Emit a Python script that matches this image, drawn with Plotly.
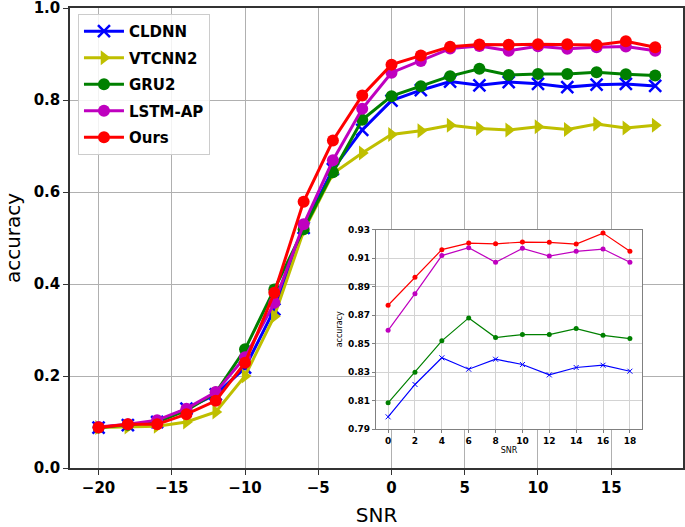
import plotly.graph_objects as go

# ---------------- data ----------------
snr = [-20, -18, -16, -14, -12, -10, -8, -6, -4, -2, 0, 2, 4, 6, 8, 10, 12, 14, 16, 18]

cldnn = [0.088, 0.093, 0.100, 0.129, 0.160, 0.218, 0.345, 0.522, 0.650, 0.735,
         0.7986, 0.8213, 0.840, 0.832, 0.839, 0.8353, 0.828, 0.8332, 0.8348, 0.8306]
vtcnn2 = [0.088, 0.089, 0.091, 0.100, 0.122, 0.200, 0.330, 0.515, 0.640, 0.685,
          0.725, 0.733, 0.745, 0.738, 0.735, 0.742, 0.736, 0.748, 0.739, 0.745]
gru2 = [0.088, 0.094, 0.100, 0.125, 0.164, 0.258, 0.388, 0.519, 0.643, 0.757,
        0.8084, 0.8299, 0.8519, 0.868, 0.8542, 0.8563, 0.8563, 0.8605, 0.8558, 0.8535]
lstm_ap = [0.089, 0.095, 0.104, 0.129, 0.165, 0.241, 0.359, 0.530, 0.669, 0.781,
           0.8593, 0.885, 0.9117, 0.9173, 0.907, 0.9168, 0.9114, 0.9147, 0.9163, 0.907]
ours = [0.088, 0.095, 0.095, 0.117, 0.146, 0.229, 0.381, 0.579, 0.712, 0.810,
        0.8769, 0.8965, 0.9159, 0.9205, 0.920, 0.9212, 0.921, 0.9198, 0.9275, 0.9147]

x_ticks = [-20, -15, -10, -5, 0, 5, 10, 15]
x_ticktext = ["\u221220", "\u221215", "\u221210", "\u22125", "0", "5", "10", "15"]
y_ticks = [0.0, 0.2, 0.4, 0.6, 0.8, 1.0]
y_ticktext = ["0.0", "0.2", "0.4", "0.6", "0.8", "1.0"]

inset_snr_min = 0
inset_x_ticks = [0, 2, 4, 6, 8, 10, 12, 14, 16, 18]
inset_y_ticks = [0.79, 0.81, 0.83, 0.85, 0.87, 0.89, 0.91, 0.93]
inset_y_ticktext = ["0.79", "0.81", "0.83", "0.85", "0.87", "0.89", "0.91", "0.93"]

names = ["CLDNN", "VTCNN2", "GRU2", "LSTM-AP", "Ours"]
series = [cldnn, vtcnn2, gru2, lstm_ap, ours]
colors = ["#0000ff", "#bfbf00", "#008000", "#bf00bf", "#ff0000"]
symbols = ["x-thin", "triangle-right", "circle", "circle", "circle"]

FONT = "DejaVu Sans"

fig = go.Figure()

for name, ys, c, s in zip(names, series, colors, symbols):
    if s == "x-thin":
        marker = dict(symbol=s, size=12, color=c, line=dict(color=c, width=2.5))
    else:
        marker = dict(symbol=s, size=13 if s == "triangle-right" else 12, color=c,
                      line=dict(width=0))
    fig.add_trace(go.Scatter(
        x=snr, y=ys, name=name, mode="lines+markers",
        line=dict(color=c, width=3), marker=marker,
        legendgroup=name, xaxis="x", yaxis="y"))

# inset traces (no VTCNN2)
for name, ys, c, s in zip(names, series, colors, symbols):
    if name == "VTCNN2":
        continue
    xi = [v for v in snr if v >= inset_snr_min]
    yi = [y for v, y in zip(snr, ys) if v >= inset_snr_min]
    if s == "x-thin":
        marker = dict(symbol=s, size=5, color=c, line=dict(color=c, width=1))
    else:
        marker = dict(symbol=s, size=5, color=c, line=dict(width=0))
    fig.add_trace(go.Scatter(
        x=xi, y=yi, name=name, mode="lines+markers", showlegend=False,
        line=dict(color=c, width=1.2), marker=marker,
        xaxis="x2", yaxis="y2"))

ix0, ix1 = 0.4992, 0.9331
iy0, iy1 = 0.0846, 0.5184

fig.update_layout(
    width=685, height=527,
    margin=dict(l=70, r=2, t=8, b=59, autoexpand=False),
    paper_bgcolor="white", plot_bgcolor="white",
    font=dict(family=FONT, color="black"),
    showlegend=True,
    legend=dict(
        x=0.013, y=0.987, xanchor="left", yanchor="top",
        bgcolor="rgba(255,255,255,0.85)", bordercolor="#cccccc", borderwidth=1,
        font=dict(family=FONT, size=15, weight="bold", color="black"),
        tracegroupgap=4, itemwidth=40),
    xaxis=dict(
        domain=[0, 1], range=[-21.95, 19.9], anchor="y", automargin=False,
        tickvals=x_ticks, ticktext=x_ticktext, ticklabeloverflow="allow",
        tickfont=dict(family=FONT, size=15, weight="bold"),
        showgrid=True, gridcolor="#b0b0b0", gridwidth=1, zeroline=False,
        showline=True, linecolor="#333333", linewidth=1.5, mirror=True,
        ticks="outside", ticklen=5, tickcolor="#333333",
        title=dict(text="SNR", font=dict(family=FONT, size=20), standoff=12)),
    yaxis=dict(
        domain=[0, 1], range=[0, 1], anchor="x", automargin=False,
        tickvals=y_ticks, ticktext=y_ticktext, ticklabeloverflow="allow",
        tickfont=dict(family=FONT, size=15, weight="bold"),
        showgrid=True, gridcolor="#b0b0b0", gridwidth=1, zeroline=False,
        showline=True, linecolor="#333333", linewidth=1.5, mirror=True,
        ticks="outside", ticklen=5, tickcolor="#333333",
        title=dict(text="accuracy", font=dict(family=FONT, size=20), standoff=8)),
    xaxis2=dict(
        domain=[ix0, ix1], range=[-0.9, 18.9], anchor="y2", automargin=False,
        tickvals=inset_x_ticks,
        tickfont=dict(family=FONT, size=9, weight="bold"),
        showgrid=True, gridcolor="#d3d3d3", gridwidth=1, zeroline=False,
        showline=True, linecolor="#808080", linewidth=1.2, mirror=True,
        ticks="outside", ticklen=3, tickcolor="#808080",
        title=dict(text="SNR", font=dict(family=FONT, size=8), standoff=2)),
    yaxis2=dict(
        domain=[iy0, iy1], range=[0.79, 0.93], anchor="x2", automargin=False,
        tickvals=inset_y_ticks, ticktext=inset_y_ticktext,
        tickfont=dict(family=FONT, size=9, weight="bold"),
        showgrid=True, gridcolor="#d3d3d3", gridwidth=1, zeroline=False,
        showline=True, linecolor="#808080", linewidth=1.2, mirror=True,
        ticks="outside", ticklen=3, tickcolor="#808080",
        title=dict(text="accuracy", font=dict(family=FONT, size=8), standoff=4)),
    shapes=[dict(type="rect", xref="x2", yref="y2", x0=-0.9, x1=18.9,
                 y0=0.79, y1=0.93, fillcolor="white", line=dict(width=0),
                 layer="below")],
)

fig.write_html("out.html",
               config={"displayModeBar": False},
               post_script="document.body.style.margin='0px';"
                           "document.body.style.overflow='hidden';")
